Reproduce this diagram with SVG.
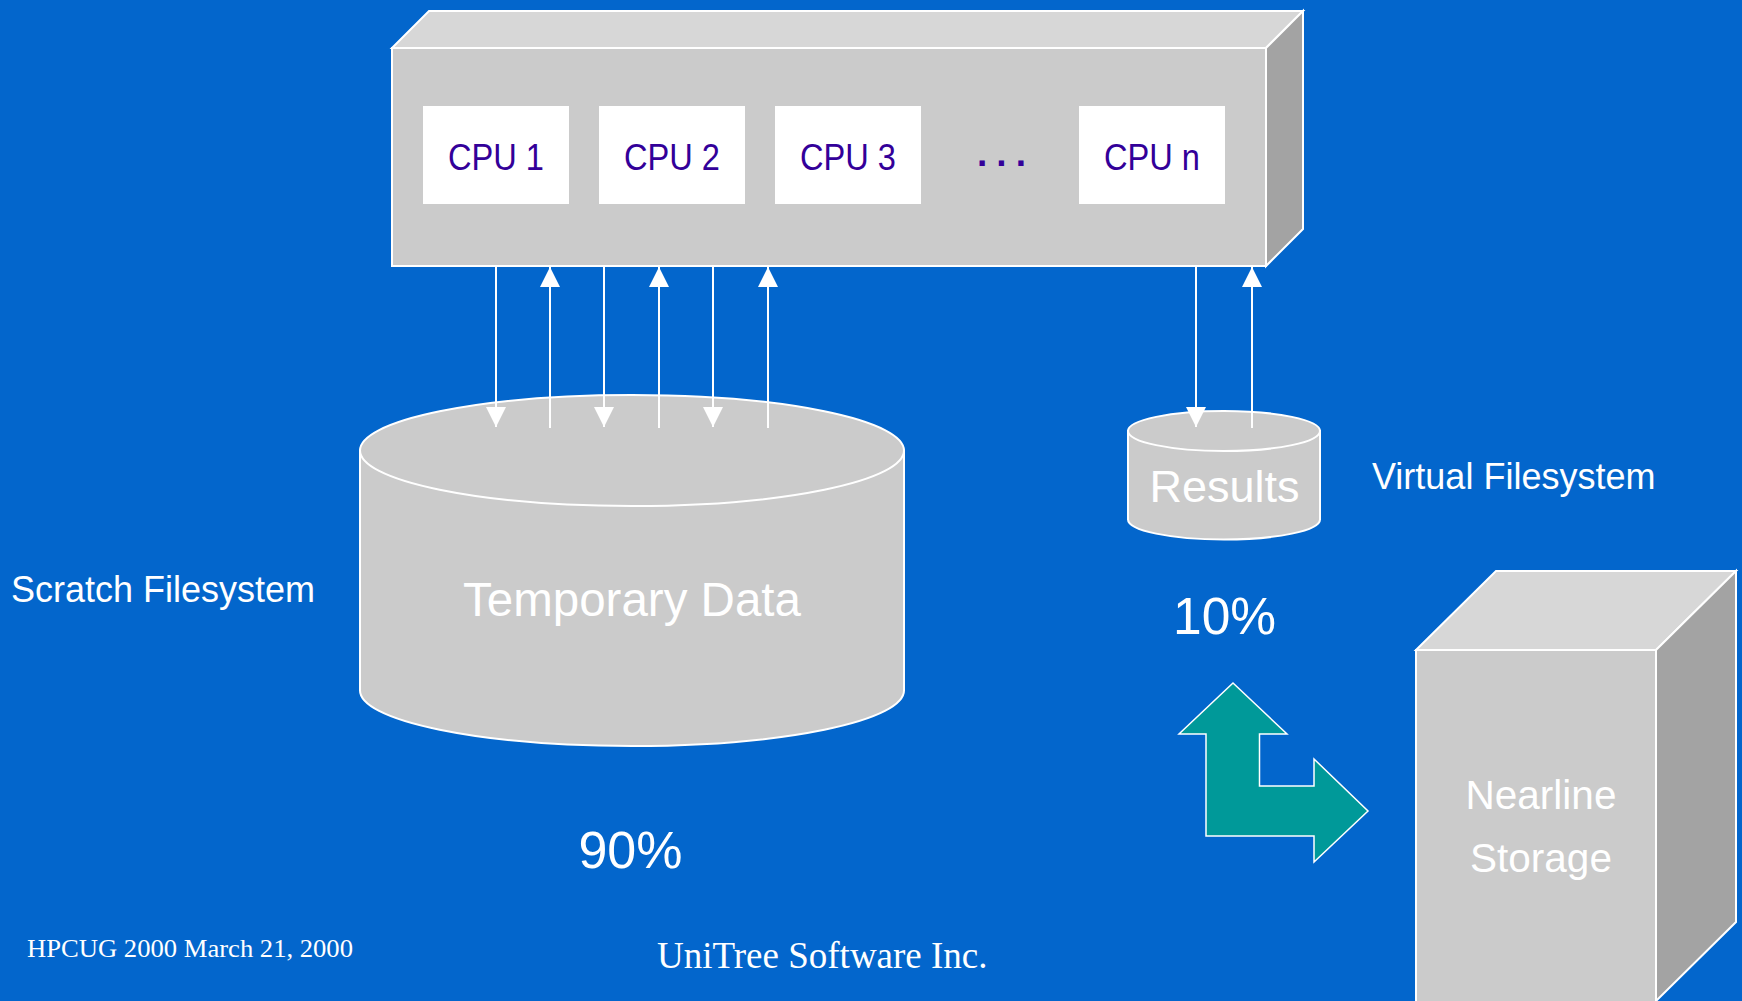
<svg xmlns="http://www.w3.org/2000/svg" width="1742" height="1001" viewBox="0 0 1742 1001">
<style>
.face{fill:#cbcbcb;stroke:#ffffff;stroke-width:2}
.top{fill:#d7d7d7;stroke:#ffffff;stroke-width:2}
.side{fill:#a3a3a3;stroke:#ffffff;stroke-width:2}
.cpu{fill:#ffffff}
.cpuText{font-family:"Liberation Sans",Arial,sans-serif;font-size:37px;fill:#330099;text-anchor:middle}
.label{font-family:"Liberation Sans",Arial,sans-serif;fill:#ffffff}
.serif{font-family:"Liberation Serif","Times New Roman",serif;fill:#ffffff}
.conn{stroke:#ffffff;stroke-width:2;fill:none;marker-end:url(#ah)}
</style>
<defs>
<marker id="ah" viewBox="0 0 20 20" markerWidth="20" markerHeight="20" markerUnits="userSpaceOnUse" refX="20" refY="10" orient="auto">
<path d="M0,0 L20,10 L0,20 z" fill="#ffffff"/>
</marker>
</defs>
<rect x="0" y="0" width="1742" height="1001" fill="#0366cc"/>

<g id="cpu-box">
<polygon class="top" points="392,48 429,11 1303,11 1266,48"/>
<polygon class="side" points="1266,48 1303,11 1303,229 1266,266"/>
<rect class="face" x="392" y="48" width="874" height="218"/>
</g>
<g id="cpu1"><rect class="cpu" x="423" y="106" width="146" height="98"/><text class="cpuText" x="496" y="170" textLength="96" lengthAdjust="spacingAndGlyphs">CPU 1</text></g>
<g id="cpu2"><rect class="cpu" x="599" y="106" width="146" height="98"/><text class="cpuText" x="672" y="170" textLength="96" lengthAdjust="spacingAndGlyphs">CPU 2</text></g>
<g id="cpu3"><rect class="cpu" x="775" y="106" width="146" height="98"/><text class="cpuText" x="848" y="170" textLength="96" lengthAdjust="spacingAndGlyphs">CPU 3</text></g>
<g id="dots"><text class="cpuText" x="1006" y="166" font-weight="bold" letter-spacing="9">...</text></g>
<g id="cpun"><rect class="cpu" x="1079" y="106" width="146" height="98"/><text class="cpuText" x="1152" y="170" textLength="96" lengthAdjust="spacingAndGlyphs">CPU n</text></g>

<g id="temporary-data">
<path class="face" d="M360,450.5 L360,690.5 A272,55.5 0 0 0 904,690.5 L904,450.5 Z"/>
<ellipse class="face" cx="632" cy="450.5" rx="272" ry="55.5"/>
<text class="label" x="632" y="616" font-size="47.5" text-anchor="middle">Temporary Data</text>
</g>

<g id="results">
<path class="face" d="M1128,431 L1128,519.5 A96,20 0 0 0 1320,519.5 L1320,431 Z"/>
<ellipse class="face" cx="1224" cy="431" rx="96" ry="20"/>
<text class="label" x="1224.5" y="502" font-size="45" text-anchor="middle">Results</text>
</g>

<g id="nearline">
<polygon class="top" points="1416,650 1496,571 1736,571 1656,650"/>
<polygon class="side" points="1656,650 1736,571 1736,922 1656,1001"/>
<rect class="face" x="1416" y="650" width="240" height="360"/>
<text class="label" x="1541" y="809" font-size="40.5" text-anchor="middle">Nearline</text>
<text class="label" x="1541" y="872" font-size="40.5" text-anchor="middle">Storage</text>
</g>

<g id="migrate-arrow">
<polygon points="1233,683 1287,734 1259.5,734 1259.5,786 1314,786 1314,759 1368,811 1314,862 1314,836 1206,836 1206,734 1179,734" fill="#009999" stroke="#ffffff" stroke-width="1.5"/>
</g>

<g id="connectors">
<line class="conn" x1="496" y1="266" x2="496" y2="427"/>
<line class="conn" x1="550" y1="428" x2="550" y2="267"/>
<line class="conn" x1="604" y1="266" x2="604" y2="427"/>
<line class="conn" x1="659" y1="428" x2="659" y2="267"/>
<line class="conn" x1="713" y1="266" x2="713" y2="427"/>
<line class="conn" x1="768" y1="428" x2="768" y2="267"/>
<line class="conn" x1="1196" y1="266" x2="1196" y2="427"/>
<line class="conn" x1="1252" y1="428" x2="1252" y2="267"/>
</g>

<g id="labels">
<text class="label" x="11" y="602" font-size="36">Scratch Filesystem</text>
<text class="label" x="1372" y="489" font-size="36">Virtual Filesystem</text>
<text class="label" x="1173" y="634" font-size="51.5">10%</text>
<text class="label" x="630.5" y="868" font-size="52" text-anchor="middle">90%</text>
<text class="serif" x="27" y="957" font-size="26" textLength="326" lengthAdjust="spacingAndGlyphs">HPCUG 2000 March 21, 2000</text>
<text class="serif" x="657" y="968" font-size="37">UniTree Software Inc.</text>
</g>
</svg>
